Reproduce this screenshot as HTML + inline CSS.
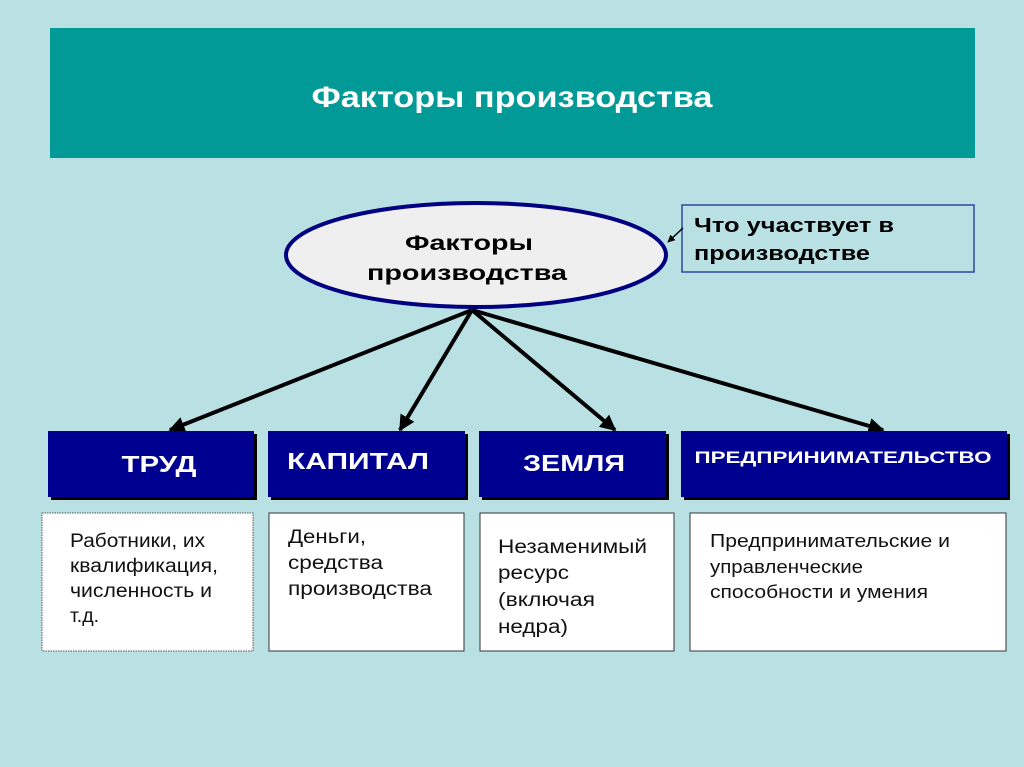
<!DOCTYPE html>
<html><head><meta charset="utf-8"><style>
html,body{margin:0;padding:0;background:#b9e0e3;}
svg{display:block;font-family:"Liberation Sans",Arial,sans-serif;}
</style></head><body>
<svg width="1024" height="767" viewBox="0 0 1024 767" xmlns="http://www.w3.org/2000/svg">
<defs>
<marker id="ah" viewBox="0 0 10 10" refX="9" refY="5" markerWidth="4" markerHeight="4" orient="auto"><path d="M0,0 L10,5 L0,10 z" fill="#000"/></marker>
<marker id="ah2" viewBox="0 0 10 10" refX="9" refY="5" markerWidth="5" markerHeight="5" orient="auto"><path d="M0,0 L10,5 L0,10 z" fill="#000"/></marker>
</defs>
<rect width="1024" height="767" fill="#b9e0e3"/>
<rect x="50" y="28" width="925" height="130" fill="#019a97"/>
<text x="512" y="107" text-anchor="middle" font-size="30" font-weight="bold" fill="#fff" textLength="401" lengthAdjust="spacingAndGlyphs">Факторы производства</text>

<ellipse cx="476" cy="255" rx="190" ry="52" fill="#efefef" stroke="#000080" stroke-width="4"/>
<text x="469" y="250" text-anchor="middle" font-size="21" font-weight="bold" fill="#000" textLength="128" lengthAdjust="spacingAndGlyphs">Факторы</text>
<text x="467" y="280" text-anchor="middle" font-size="21" font-weight="bold" fill="#000" textLength="200" lengthAdjust="spacingAndGlyphs">производства</text>

<rect x="682" y="205" width="292" height="67" fill="none" stroke="#2a4aa0" stroke-width="1.5"/>
<text x="694" y="232" font-size="20" font-weight="bold" fill="#000" textLength="200" lengthAdjust="spacingAndGlyphs">Что участвует в</text>
<text x="694" y="260" font-size="20" font-weight="bold" fill="#000" textLength="176" lengthAdjust="spacingAndGlyphs">производстве</text>
<line x1="683" y1="228" x2="668" y2="242" stroke="#000" stroke-width="1.5" marker-end="url(#ah2)"/>

<g stroke="#000" stroke-width="4" marker-end="url(#ah)">
<line x1="472" y1="310" x2="170" y2="430"/>
<line x1="472" y1="310" x2="400" y2="430"/>
<line x1="472" y1="310" x2="615" y2="430"/>
<line x1="472" y1="310" x2="883" y2="430"/>
</g>

<g fill="#000">
<rect x="51" y="434" width="206" height="66"/>
<rect x="271" y="434" width="197" height="66"/>
<rect x="482" y="434" width="187" height="66"/>
<rect x="684" y="434" width="326" height="66"/>
</g>
<g fill="#000090">
<rect x="48" y="431" width="206" height="66"/>
<rect x="268" y="431" width="197" height="66"/>
<rect x="479" y="431" width="187" height="66"/>
<rect x="681" y="431" width="326" height="66"/>
</g>
<g fill="#fff" font-weight="bold">
<text x="159" y="472" text-anchor="middle" font-size="23" textLength="75" lengthAdjust="spacingAndGlyphs">ТРУД</text>
<text x="358" y="469" text-anchor="middle" font-size="23" textLength="142" lengthAdjust="spacingAndGlyphs">КАПИТАЛ</text>
<text x="574" y="471" text-anchor="middle" font-size="23" textLength="102" lengthAdjust="spacingAndGlyphs">ЗЕМЛЯ</text>
<text x="843" y="463" text-anchor="middle" font-size="17" textLength="297" lengthAdjust="spacingAndGlyphs">ПРЕДПРИНИМАТЕЛЬСТВО</text>
</g>

<rect x="42" y="513" width="211" height="138" fill="#fff" stroke="#555" stroke-width="1" stroke-dasharray="1.5,1"/>
<rect x="269" y="513" width="195" height="138" fill="#fff" stroke="#333" stroke-width="1"/>
<rect x="480" y="513" width="194" height="138" fill="#fff" stroke="#333" stroke-width="1"/>
<rect x="690" y="513" width="316" height="138" fill="#fff" stroke="#333" stroke-width="1"/>

<g font-size="19" fill="#111" lengthAdjust="spacingAndGlyphs">
<text x="70" y="547" textLength="135" lengthAdjust="spacingAndGlyphs">Работники, их</text>
<text x="70" y="572" textLength="148" lengthAdjust="spacingAndGlyphs">квалификация,</text>
<text x="70" y="597" textLength="142" lengthAdjust="spacingAndGlyphs">численность и</text>
<text x="70" y="622" textLength="29" lengthAdjust="spacingAndGlyphs">т.д.</text>
<text x="288" y="543" textLength="78" lengthAdjust="spacingAndGlyphs">Деньги,</text>
<text x="288" y="569" textLength="95" lengthAdjust="spacingAndGlyphs">средства</text>
<text x="288" y="595" textLength="144" lengthAdjust="spacingAndGlyphs">производства</text>
<text x="498" y="553" textLength="149" lengthAdjust="spacingAndGlyphs">Незаменимый</text>
<text x="498" y="579" textLength="71" lengthAdjust="spacingAndGlyphs">ресурс</text>
<text x="498" y="606" textLength="97" lengthAdjust="spacingAndGlyphs">(включая</text>
<text x="498" y="633" textLength="70" lengthAdjust="spacingAndGlyphs">недра)</text>
</g>
<g font-size="18" fill="#111">
<text x="710" y="547" textLength="240" lengthAdjust="spacingAndGlyphs">Предпринимательские и</text>
<text x="710" y="573" textLength="153" lengthAdjust="spacingAndGlyphs">управленческие</text>
<text x="710" y="598" textLength="218" lengthAdjust="spacingAndGlyphs">способности и умения</text>
</g>
</svg>
</body></html>
